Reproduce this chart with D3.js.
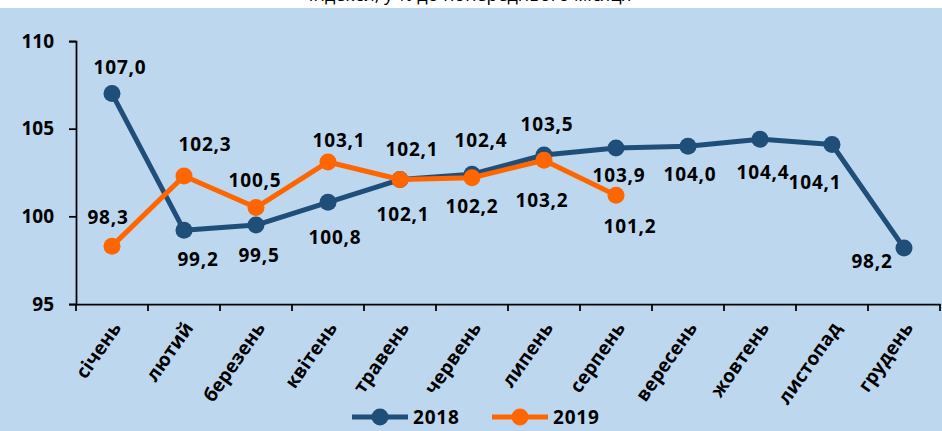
<!DOCTYPE html>
<html>
<head>
<meta charset="utf-8">
<script src="https://cdn.jsdelivr.net/npm/d3@7"></script>
<style>
  body { margin: 0; background: #fff; }
  svg text { font-family: 'Open Sans', sans-serif; }
</style>
</head>
<body>
<div id="chart"></div>
<script>
// Data
const months = ['січень', 'лютий', 'березень', 'квітень', 'травень', 'червень',
  'липень', 'серпень', 'вересень', 'жовтень', 'листопад', 'грудень'];
const values2018 = [107.0, 99.2, 99.5, 100.8, 102.1, 102.4, 103.5, 103.9, 104.0, 104.4, 104.1, 98.2];
const values2019 = [98.3, 102.3, 100.5, 103.1, 102.1, 102.2, 103.2, 101.2];
const yTicks = [95, 100, 105, 110];

// Label offsets from each point (label centre), px
const offsets2018 = [[8, -26], [14, 29], [3, 30], [7, 35], [12, -30], [9, -34],
  [3, -31], [3, 27], [2, 28], [3, 33], [-17, 38], [-32, 13]];
const offsets2019 = [[-4, -29], [21, -32], [-1, -27], [11, -22], [3, 35], [0, 28],
  [-2, 40], [14, 31]];

// Dimensions
const WIDTH = 942;
const HEIGHT = 431;
const PLOT = { left: 76, right: 940, top: 41, bottom: 304 };
const BLUE = '#1F4E79';
const ORANGE = '#FF6600';

const svg = d3.select('#chart')
  .append('svg')
  .attr('width', WIDTH)
  .attr('height', HEIGHT);

// Background
svg.append('rect')
  .attr('x', 0).attr('y', 8)
  .attr('width', WIDTH).attr('height', HEIGHT - 8)
  .attr('fill', '#BDD7EE');

// Title (cut off at the top in the reference)
svg.append('text')
  .attr('x', 470).attr('y', 1)
  .attr('text-anchor', 'middle')
  .style('font-size', '18px')
  .text('Індекси, у % до попереднього місяця');

// Scales
const x = d3.scaleBand()
  .domain(months)
  .range([PLOT.left, PLOT.right]);

const y = d3.scaleLinear()
  .domain([95, 110])
  .range([PLOT.bottom, PLOT.top]);

const cx = (d, i) => x(months[i]) + x.bandwidth() / 2;

// Y axis
const yAxis = svg.append('g')
  .attr('transform', `translate(${PLOT.left},0)`)
  .call(d3.axisLeft(y).tickValues(yTicks).tickSize(7).tickPadding(15));
yAxis.selectAll('path, line').attr('stroke', '#000').attr('stroke-width', 1.75);
yAxis.selectAll('text')
  .attr('fill', '#000')
  .style('font-size', '19px')
  .style('font-weight', 700)
  .style('font-family', "'Open Sans', sans-serif");

// X axis
const xAxis = svg.append('g')
  .attr('transform', `translate(0,${PLOT.bottom})`)
  .call(d3.axisBottom(x).tickSize(0).tickSizeOuter(0).tickPadding(0));
xAxis.select('path').attr('stroke', '#000').attr('stroke-width', 1.75);
xAxis.selectAll('.tick text')
  .attr('text-anchor', 'end')
  .attr('fill', '#000')
  .attr('y', 0).attr('dy', 0)
  .attr('transform', 'translate(10,24) rotate(-55)')
  .style('font-size', '19px')
  .style('font-weight', 700)
  .style('font-family', "'Open Sans', sans-serif");

// Boundary ticks
xAxis.selectAll('line.bound')
  .data(months.map(m => x(m)).concat([PLOT.right]))
  .enter()
  .append('line')
  .attr('class', 'bound')
  .attr('x1', d => d).attr('x2', d => d)
  .attr('y1', 0).attr('y2', 7)
  .attr('stroke', '#000')
  .attr('stroke-width', 1.75);

// Series
const line = d3.line()
  .x(cx)
  .y(d => y(d));

function drawSeries(values, color) {
  const g = svg.append('g');
  g.append('path')
    .datum(values)
    .attr('d', line)
    .attr('fill', 'none')
    .attr('stroke', color)
    .attr('stroke-width', 5)
    .attr('stroke-linejoin', 'round');

  g.selectAll('circle')
    .data(values)
    .enter()
    .append('circle')
    .attr('cx', cx)
    .attr('cy', d => y(d))
    .attr('r', 8.5)
    .attr('fill', color);
  return g;
}

function drawLabels(values, offsets) {
  svg.append('g')
    .selectAll('text')
    .data(values)
    .enter()
    .append('text')
    .attr('x', (d, i) => cx(d, i) + offsets[i][0])
    .attr('y', (d, i) => y(d) + offsets[i][1])
    .attr('dy', '0.36em')
    .attr('text-anchor', 'middle')
    .style('font-size', '19px')
    .style('font-weight', 700)
    .style('letter-spacing', '0.8px')
    .text(d => d.toFixed(1).replace('.', ','));
}

drawSeries(values2018, BLUE);
drawSeries(values2019, ORANGE);
drawLabels(values2018, offsets2018);
drawLabels(values2019, offsets2019);

// Legend
const legendItems = [
  { name: '2018', color: BLUE, x: 352 },
  { name: '2019', color: ORANGE, x: 492 }
];
const legend = svg.append('g').attr('transform', 'translate(0,417)');
legendItems.forEach(item => {
  legend.append('line')
    .attr('x1', item.x).attr('x2', item.x + 56)
    .attr('y1', 0).attr('y2', 0)
    .attr('stroke', item.color)
    .attr('stroke-width', 5);
  legend.append('circle')
    .attr('cx', item.x + 28).attr('cy', 0)
    .attr('r', 8.5)
    .attr('fill', item.color);
  legend.append('text')
    .attr('x', item.x + 61).attr('y', 0)
    .attr('dy', '0.36em')
    .style('font-size', '19px')
    .style('font-weight', 700)
    .style('letter-spacing', '0.8px')
    .text(item.name);
});
</script>
</body>
</html>
